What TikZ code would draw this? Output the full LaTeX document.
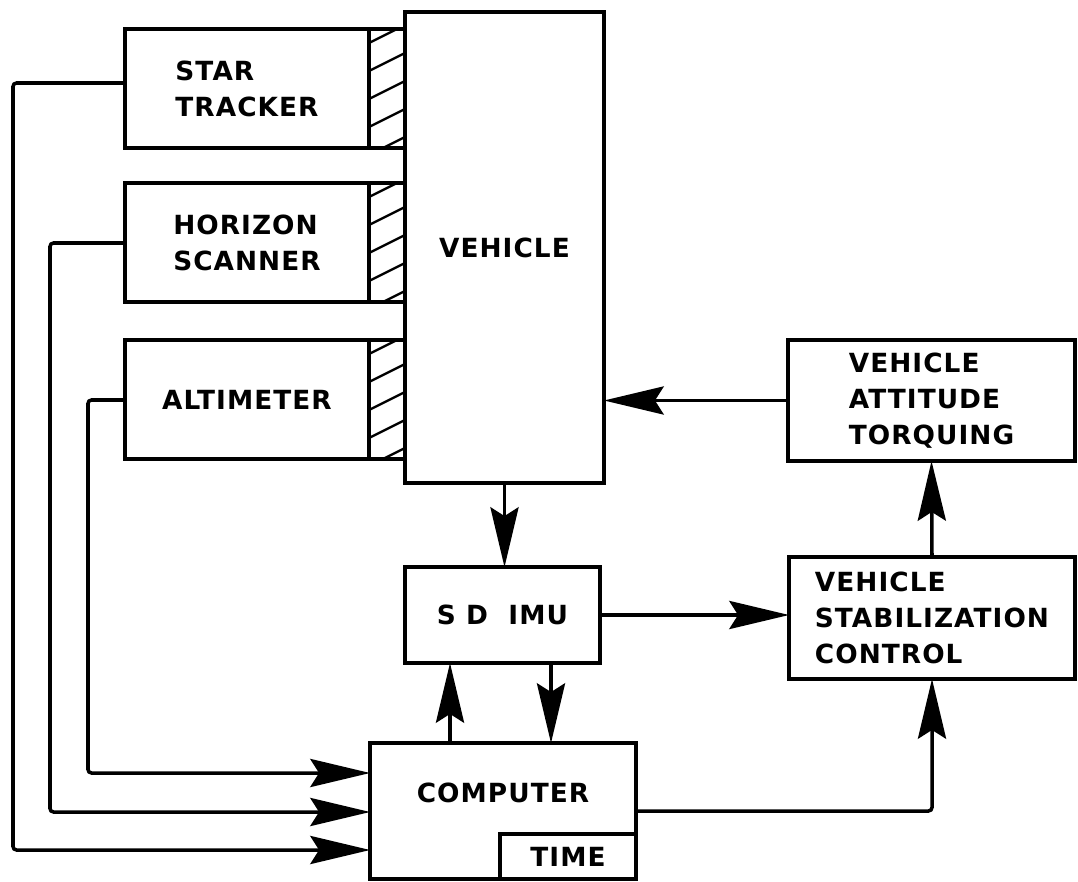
\documentclass[tikz,border=0pt]{standalone}
\usepackage{fontspec}
\newfontfamily\plotfont{DejaVu Sans}[LetterSpace=4]
\usetikzlibrary{arrows.meta,positioning,calc}

\begin{document}
\begin{tikzpicture}[
        x=0.02cm, y=-0.02cm,
        every node/.style={font=\plotfont\bfseries\fontsize{15}{20.5}\selectfont},
        block/.style={draw, line width=2pt, align=left, inner sep=2pt, outer sep=0pt},
        sensor/.style={block, minimum width=4.88cm, minimum height=2.38cm},
        arrow/.style={-{Stealth[length=34pt,width=16pt,inset=5pt]}, line width=2pt, rounded corners=2pt},
        hatch/.style={line width=1.3pt}
    ]
        \useasboundingbox (0,0) rectangle (1078,882);

        \node[sensor] (st)  at (247,88.5)  {STAR\\TRACKER};
        \node[sensor] (hs)  at (247,242.5) {HORIZON\\SCANNER};
        \node[sensor] (alt) at (247,399.5) {ALTIMETER};

        \node[block, minimum width=3.98cm, minimum height=9.42cm] (veh) at (504.5,247.5) {VEHICLE};
        \node[block, minimum width=3.9cm, minimum height=1.92cm] (imu) at (502.5,615) {S D\ \ IMU};
        \node[block, minimum width=5.74cm, minimum height=2.42cm] (vat) at (931.5,400.5) {VEHICLE\\ATTITUDE\\TORQUING};
        \node[block, minimum width=5.72cm, minimum height=2.44cm] (vsc) at (932,618) {VEHICLE\\STABILIZATION\\CONTROL};

        \node[block, minimum width=5.32cm, minimum height=2.72cm] (comp) at (503,811) {};
        \node (comptxt) at (503,793) {COMPUTER};
        \node[block, anchor=south east, minimum width=2.72cm, minimum height=0.9cm] (time) at (comp.south east) {TIME};

        % hatched mounts between sensors and vehicle
        \foreach \s in {st,hs,alt} {
            \draw[line width=2pt] (\s.north east) rectangle (veh.west |- \s.south);
            \begin{scope}
                \clip (\s.north east) rectangle (veh.west |- \s.south);
                \foreach \k in {0,...,5}
                    \draw[hatch] ($(\s.north east)+(0,14+28*\k)$) -- ++(36,-18);
            \end{scope}
        }

        % sensor outputs to computer
        \draw[arrow] (st.west |- 0,83)   -| (13,850) -- (comp.west |- 0,850);
        \draw[arrow] (hs.west |- 0,243)  -| (50,812) -- (comp.west |- 0,812);
        \draw[arrow] (alt.west |- 0,400) -| (88,773) -- (comp.west |- 0,773);

        \draw[arrow] (veh.south) -- (veh.south |- imu.north);
        \draw[arrow] (comp.north -| 450,0) -- (imu.south -| 450,0);
        \draw[arrow] (imu.south -| 551,0) -- (comp.north -| 551,0);
        \draw[arrow] (imu.east) -- (imu.east -| vsc.west);
        \draw[arrow] (comp.east) -| (vsc.south);
        \draw[arrow] (vsc.north) -- (vat.south);
        \draw[arrow] (vat.west) -- (vat.west -| veh.east);

    \end{tikzpicture}
\end{document}
